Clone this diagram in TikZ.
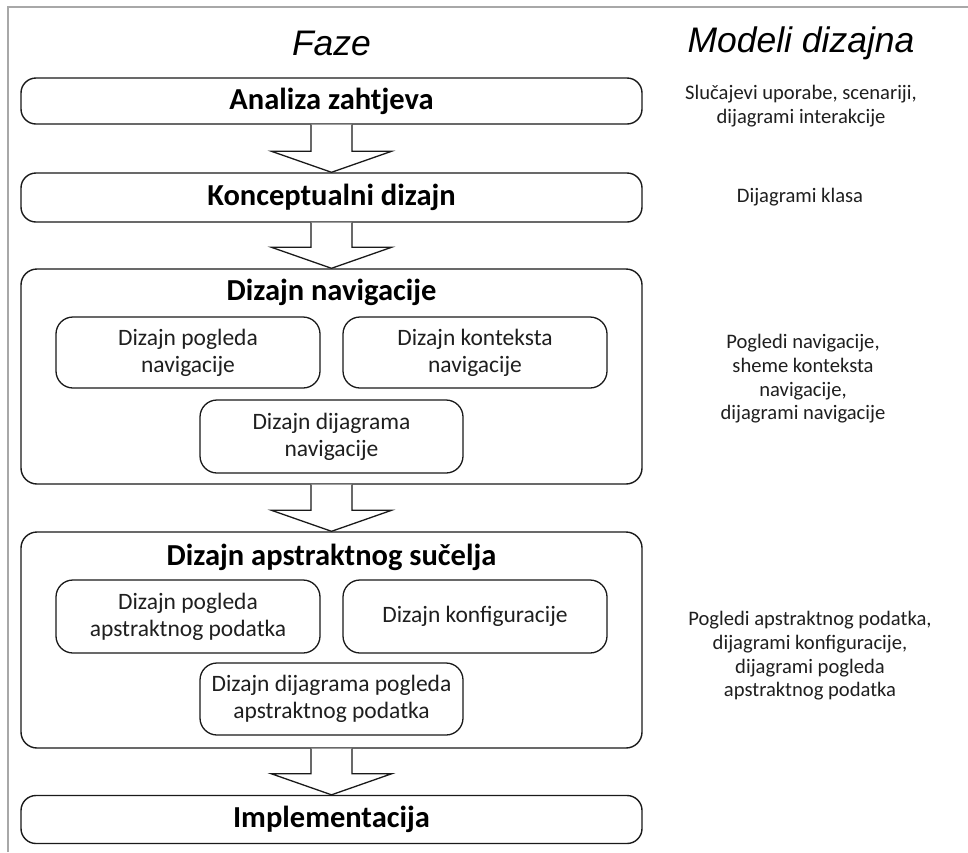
\documentclass[tikz,border=0pt]{standalone}
\usepackage{fontspec}
\setmainfont{Carlito}
\newfontfamily\hdrfont{Liberation Sans}
\usetikzlibrary{calc}
\definecolor{edge}{HTML}{1A1A1A}
\definecolor{txt}{HTML}{1F1F1F}
\definecolor{frame}{HTML}{A8A8A8}
\tikzset{
  phase/.style={draw=edge, line width=1.4pt, rounded corners=15pt, minimum width=621pt, inner sep=0pt, text=black,
    font=\fontsize{30.5}{34}\selectfont\bfseries},
  group/.style={draw=edge, line width=1.4pt, rounded corners=16pt, minimum width=621pt, inner sep=0pt},
  gtitle/.style={inner sep=0pt, text=black, font=\fontsize{30.5}{34}\selectfont\bfseries},
  subbox/.style={draw=edge, line width=1.3pt, rounded corners=17pt, inner sep=0pt, align=center, text=txt,
    font=\fontsize{23.5}{27}\selectfont},
  model/.style={inner sep=0pt, align=center, text=txt, font=\fontsize{20.6}{23.7}\selectfont},
  header/.style={inner sep=0pt, text=black, font=\hdrfont\itshape\fontsize{35.5}{40}\selectfont},
  blockarr/.style={draw=edge, line width=1.3pt, fill=white, line join=miter}
}
\newcommand{\blockarrow}[2]{%
  \draw[blockarr] ($(#1.south)+(-20.5,0)$) -- ($(#2.north)+(-20.5,-21)$) -- ($(#2.north)+(-60,-21)$)
    -- (#2.north) -- ($(#2.north)+(60,-21)$) -- ($(#2.north)+(20.5,-21)$) -- ($(#1.south)+(20.5,0)$);%
}
\begin{document}
\begin{tikzpicture}[x=1pt, y=-1pt]
\useasboundingbox (0,0) rectangle (968,852);
\fill[white] (0,0) rectangle (968,852);
\draw[frame, line width=2pt] (8,852) -- (8,7) -- (968,7);

% headers
\node[header] (hf) at (331.5,43) {Faze};
\node[header] (hm) at (801,43) {Modeli dizajna};

% phases
\node[phase, minimum height=46pt] (b1) at (331.5,101) {Analiza zahtjeva};
\node[phase, minimum height=49pt] (b2) at (331.5,197.5) {Konceptualni dizajn};
\node[group, minimum height=215pt] (b3) at (331.5,376.5) {};
\node[gtitle] (t3) at (331.5,292) {Dizajn navigacije};
\node[subbox, minimum width=264pt, minimum height=71pt] (s31) at (188,352.5) {Dizajn pogleda\\navigacije};
\node[subbox, minimum width=264pt, minimum height=71pt] (s32) at (475,352.5) {Dizajn konteksta\\navigacije};
\node[subbox, minimum width=263pt, minimum height=73pt] (s33) at (331.5,436.5) {Dizajn dijagrama\\navigacije};

\node[group, minimum height=216pt] (b4) at (331.5,640) {};
\node[gtitle] (t4) at (331.5,557) {Dizajn apstraktnog sučelja};
\node[subbox, minimum width=264pt, minimum height=73pt] (s41) at (188,616.5) {Dizajn pogleda\\apstraktnog podatka};
\node[subbox, minimum width=264pt, minimum height=73pt] (s42) at (475,616.5) {Dizajn konfiguracije};
\node[subbox, minimum width=263pt, minimum height=72pt] (s43) at (331.5,699) {Dizajn dijagrama pogleda\\apstraktnog podatka};

\node[phase, minimum height=48pt] (b5) at (331.5,819.5) {Implementacija};

% block arrows
\blockarrow{b1}{b2}
\blockarrow{b2}{b3}
\blockarrow{b3}{b4}
\blockarrow{b4}{b5}

% models
\node[model] (m1) at (801,106) {Slučajevi uporabe, scenariji,\\dijagrami interakcije};
\node[model] (m2) at (800,197) {Dijagrami klasa};
\node[model] (m3) at (803,379) {Pogledi navigacije,\\sheme konteksta\\navigacije,\\dijagrami navigacije};
\node[model] (m4) at (810,656) {Pogledi apstraktnog podatka,\\dijagrami konfiguracije,\\dijagrami pogleda\\apstraktnog podatka};
\end{tikzpicture}
\end{document}
